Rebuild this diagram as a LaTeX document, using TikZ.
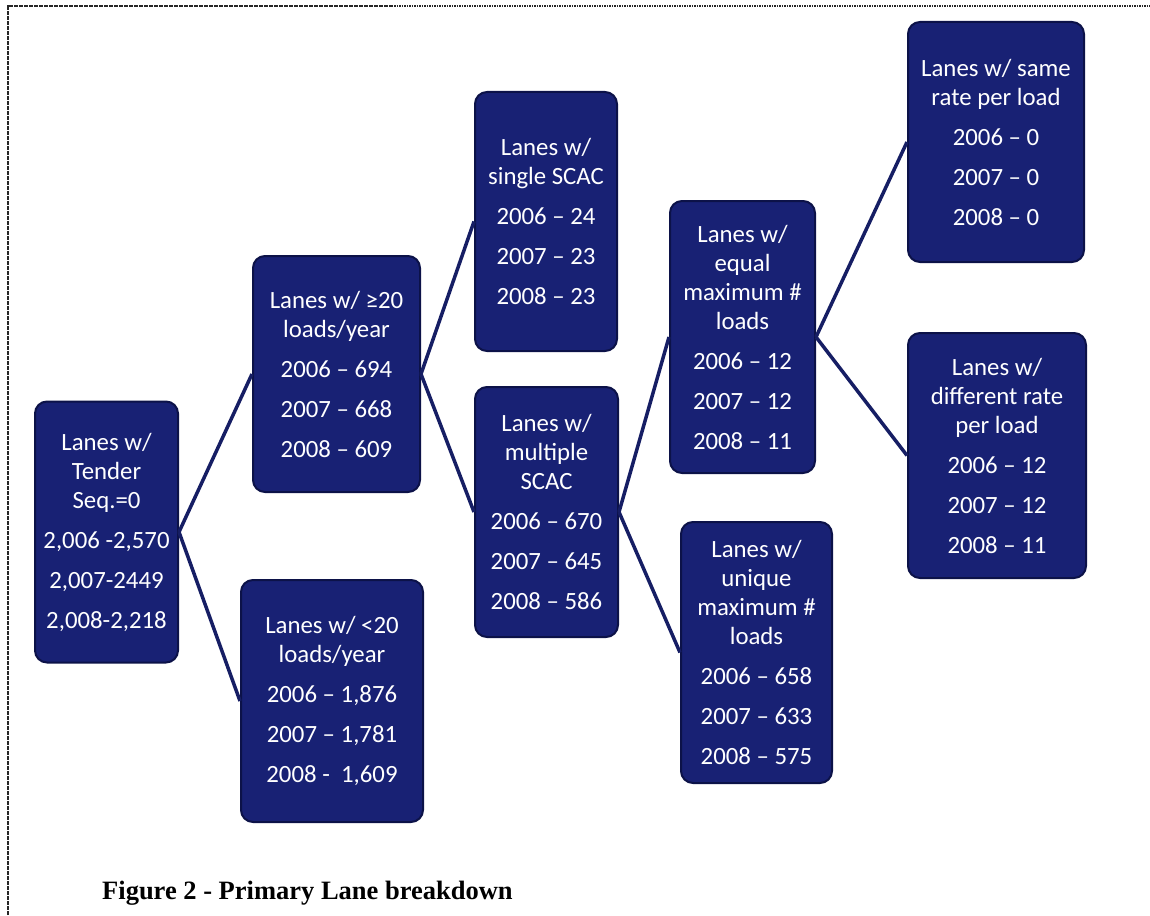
\documentclass[tikz,border=0pt]{standalone}
\usepackage{fontspec}
\newfontfamily\boxfont{Carlito}
\setmainfont{Liberation Serif}
\definecolor{boxblue}{RGB}{24,33,116}
\definecolor{boxedge}{RGB}{12,18,72}
\definecolor{connblue}{RGB}{22,30,100}
\begin{document}
\begin{tikzpicture}[x=1pt,y=-1pt,
  box/.style={rectangle, rounded corners=12pt, fill=boxblue, draw=boxedge, line width=2pt,
    text=white, align=center, inner sep=0pt,
    font=\boxfont\fontsize{24.8}{29}\selectfont},
  conn/.style={draw=connblue, line width=3.5pt},
  frameline/.style={draw=black!85, line width=1.6pt, dash pattern=on 1.6pt off 0.9pt}]
\useasboundingbox (0,0) rectangle (1150,915);
\draw[frameline] (8,915) -- (8,6) -- (1150,6);

\node[box, minimum width=143pt, minimum height=261pt] (root) at (106.5,532)
  {Lanes w/\\Tender\\Seq.=0\\[11pt]2,006 -2,570\\[11pt]2,007-2449\\[11pt]2,008-2,218};
\node[box, minimum width=167pt, minimum height=236pt] (ge) at (336.5,374)
  {Lanes w/ ≥20\\loads/year\\[11pt]2006 – 694\\[11pt]2007 – 668\\[11pt]2008 – 609};
\node[box, minimum width=182pt, minimum height=242pt] (lt) at (332,701)
  {Lanes w/ <20\\loads/year\\[11pt]2006 – 1,876\\[11pt]2007 – 1,781\\[11pt]2008 -\ \ 1,609};
\node[box, minimum width=142pt, minimum height=259pt] (single) at (546,221.5)
  {Lanes w/\\single SCAC\\[11pt]2006 – 24\\[11pt]2007 – 23\\[11pt]2008 – 23};
\node[box, minimum width=143pt, minimum height=250pt] (multi) at (546.5,512)
  {Lanes w/\\multiple\\SCAC\\[11pt]2006 – 670\\[11pt]2007 – 645\\[11pt]2008 – 586};
\node[box, minimum width=145pt, minimum height=272pt] (equal) at (742.5,337)
  {Lanes w/\\equal\\maximum \#\\loads\\[11pt]2006 – 12\\[11pt]2007 – 12\\[11pt]2008 – 11};
\node[box, minimum width=151pt, minimum height=261pt] (unique) at (756.5,652.5)
  {Lanes w/\\unique\\maximum \#\\loads\\[11pt]2006 – 658\\[11pt]2007 – 633\\[11pt]2008 – 575};
\node[box, minimum width=176pt, minimum height=240pt] (same) at (996,142)
  {Lanes w/ same\\rate per load\\[11pt]2006 – 0\\[11pt]2007 – 0\\[11pt]2008 – 0};
\node[box, minimum width=178pt, minimum height=245pt] (diff) at (997,455.5)
  {Lanes w/\\different rate\\per load\\[11pt]2006 – 12\\[11pt]2007 – 12\\[11pt]2008 – 11};

\draw[conn] (root.east) -- (ge.west);
\draw[conn] (root.east) -- (lt.west);
\draw[conn] (ge.east) -- (single.west);
\draw[conn] (ge.east) -- (multi.west);
\draw[conn] (multi.east) -- (equal.west);
\draw[conn] (multi.east) -- (unique.west);
\draw[conn] (equal.east) -- (same.west);
\draw[conn] (equal.east) -- (diff.west);

\node[anchor=base west, inner sep=0pt, font=\bfseries\fontsize{26.5}{30}\selectfont] (cap) at (102,899)
  {Figure 2 - Primary Lane breakdown};
\end{tikzpicture}
\end{document}
